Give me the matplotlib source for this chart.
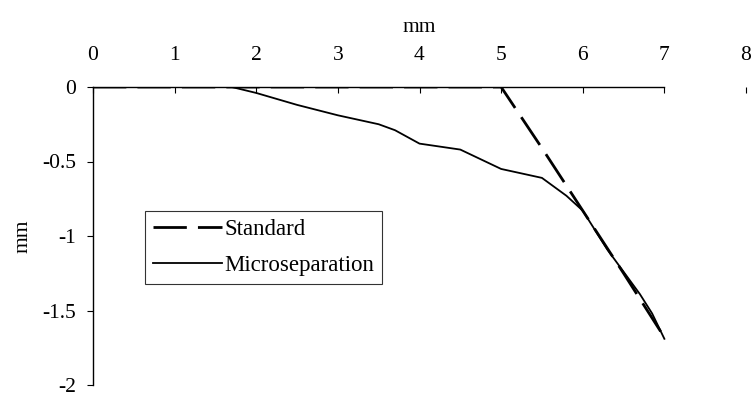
import matplotlib
matplotlib.use("Agg")
import matplotlib.pyplot as plt

# Data
std_x = [0, 1, 2, 3, 4, 5, 5.5, 6, 6.5, 7]
std_y = [0, 0, 0, 0, 0, 0, -0.41, -0.83, -1.25, -1.68]

micro_x = [0, 1, 1.7, 2, 2.5, 3, 3.5, 3.7, 4, 4.5, 5, 5.5, 5.8, 6, 6.3, 6.7, 6.85, 7]
micro_y = [0, 0, 0, -0.04, -0.12, -0.19, -0.25, -0.29, -0.38, -0.42, -0.55, -0.61,
           -0.73, -0.83, -1.09, -1.39, -1.52, -1.69]

x_ticks = [0, 1, 2, 3, 4, 5, 6, 7, 8]
x_tick_labels = ["0", "1", "2", "3", "4", "5", "6", "7", "8"]
y_ticks = [0, -0.5, -1, -1.5, -2]
y_tick_labels = ["0", "-0.5", "-1", "-1.5", "-2"]

plt.rcParams['font.family'] = ['Liberation Serif', 'DejaVu Serif']

fig = plt.figure(figsize=(7.52, 3.96), dpi=100)
ax = fig.add_axes([93 / 752, 1 - 385 / 396, (746 - 93) / 752, (385 - 87) / 396])

ax.plot(std_x, std_y, color='black', linewidth=2.0, dashes=(12, 4), label='Standard',
        solid_capstyle='butt', dash_capstyle='butt')
ax.plot(micro_x, micro_y, color='black', linewidth=1.3, label='Microseparation')

ax.set_xlim(0, 8)
ax.set_ylim(-2, 0)

ax.xaxis.tick_top()
ax.xaxis.set_label_position('top')
ax.set_xticks(x_ticks)
ax.set_xticklabels(x_tick_labels)
ax.set_yticks(y_ticks)
ax.set_yticklabels(y_tick_labels)

ax.tick_params(axis='x', direction='in', length=4, width=0.8, pad=16, labelsize=15.5)
ax.tick_params(axis='y', direction='out', length=4, width=0.8, pad=8, labelsize=15.5)

for s in ['right', 'bottom']:
    ax.spines[s].set_visible(False)
ax.spines['top'].set_bounds(0, 7)
ax.spines['top'].set_linewidth(1.0)
ax.spines['left'].set_linewidth(1.0)

ax.set_xlabel('mm', fontsize=15.5, labelpad=10)
ax.set_ylabel('mm', fontsize=15.5, labelpad=7)

leg = ax.legend(loc='upper left', bbox_to_anchor=(52 / 653, 1 - (211 - 87) / 298),
                fontsize=16.5, frameon=True, fancybox=False, shadow=False,
                borderpad=0.35, handlelength=3.0, handletextpad=0.1,
                labelspacing=0.65, borderaxespad=0)
leg.get_frame().set_edgecolor('black')
leg.get_frame().set_linewidth(0.8)

fig.savefig('out.png', dpi=100)
